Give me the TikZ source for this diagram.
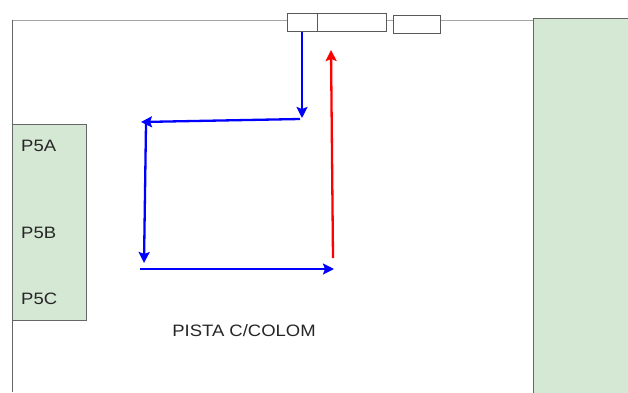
\documentclass[tikz,border=0pt]{standalone}
\usepackage{fontspec}
\setmainfont{Liberation Sans}[FakeStretch=1.12]
\usetikzlibrary{arrows.meta,positioning}
\definecolor{padgreen}{HTML}{D5E8D4}
\definecolor{edgegray}{HTML}{666666}
\definecolor{routeblue}{HTML}{0000FF}
\definecolor{routered}{HTML}{FF0000}
\tikzset{
  frame/.style={edgegray,line width=1pt},
  pad/.style={draw=edgegray,line width=1pt,fill=padgreen,inner sep=0pt,anchor=north west},
  gatebox/.style={draw=black!65,line width=1pt,inner sep=0pt,anchor=north west,minimum height=18pt},
  lab/.style={font=\fontsize{16.5}{18}\selectfont,text=black!85,inner sep=0pt},
  bluerun/.style={routeblue,line width=2.3pt,-{Stealth[length=11pt,width=11pt,inset=2pt]}},
  redrun/.style={routered,line width=2.3pt,-{Stealth[length=11pt,width=11pt,inset=2pt]}},
}
\begin{document}
\begin{tikzpicture}[x=1pt,y=-1pt]
  \path[use as bounding box] (0,0) rectangle (628,392);
  \draw[black!35,line width=1pt] (12,20) -- (533,20);
  \draw[frame] (12,20) -- (12,392);

  % pads
  \node[pad,minimum width=100pt,minimum height=380pt] (east) at (533,18) {};
  \node[pad,minimum width=74pt,minimum height=196pt] (westpad) at (12,124) {};
  \node[lab,anchor=west] (pa) at (21,146) {P5A};
  \node[lab,anchor=west] (pb) at (21,233) {P5B};
  \node[lab,anchor=west] (pc) at (21,299) {P5C};

  % gates on the top edge
  \node[gatebox,minimum width=30pt,fill=white] (gatea) at (287,13) {};
  \node[gatebox,minimum width=69pt,fill=white] (gateb) at (317,13) {};
  \node[gatebox,minimum width=47pt,fill=white] (gatec) at (393,15) {};

  \node[lab] (track) at (244,331) {PISTA C/COLOM};

  % route
  \coordinate (c1) at (302,118);
  \coordinate (c2) at (300,119);
  \coordinate (c3) at (141,122);
  \coordinate (c4) at (146,124);
  \coordinate (c5) at (144,263);
  \coordinate (c6) at (140,269);
  \coordinate (c7) at (334,269);
  \coordinate (c8) at (333,258);
  \coordinate (c9) at (331,50);
  \draw[bluerun] (gatea.south -| c1) -- (c1);
  \draw[bluerun] (c2) -- (c3);
  \draw[bluerun] (c4) -- (c5);
  \draw[bluerun] (c6) -- (c7);
  \draw[redrun] (c8) -- (c9);
\end{tikzpicture}
\end{document}
